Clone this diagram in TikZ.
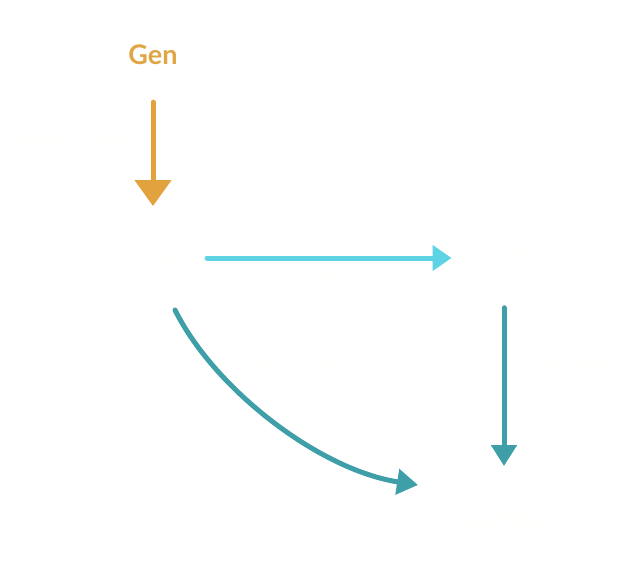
\documentclass[tikz,border=0pt]{standalone}
\usepackage{fontspec}
\setmainfont{Lato}
\usetikzlibrary{arrows.meta}
\definecolor{genorange}{HTML}{E0A545}
\definecolor{arrorange}{HTML}{E2A23E}
\definecolor{arrcyan}{HTML}{5DD3E3}
\definecolor{arrteal}{HTML}{3E9FA8}
\definecolor{txtwhite}{HTML}{FFFFFC}
\tikzset{
  mainlbl/.style={text=txtwhite, font=\fontsize{26}{30}\selectfont, inner sep=0pt},
  edgelbl/.style={text=txtwhite, font=\fontsize{21}{25}\selectfont, inner sep=0pt},
  genlbl/.style={text=genorange, font=\bfseries\fontsize{27}{31}\selectfont, inner sep=0pt},
  chalk/.style={line width=5pt, line cap=round},
}
\begin{document}
\begin{tikzpicture}[x=1pt,y=-1pt]
\useasboundingbox (0,0) rectangle (624,570);
\node[genlbl] (gen) at (153,55) {Gen};
\node[mainlbl] (prop) at (160,258) {Prop};
\node[mainlbl] (sut) at (504,258) {SUT};
\node[mainlbl, font=\fontsize{30}{34}\selectfont] (out) at (505,520) {Output};
\coordinate (cs) at (175,310);
\coordinate (ce) at (418,485);
% arrows
\draw[chalk, arrorange, -{Triangle[width=36pt,length=26pt]}, shorten <=37pt, shorten >=52pt] (gen) -- (gen |- prop);
\draw[chalk, arrcyan, -{Triangle[width=25pt,length=19pt]}, shorten <=20pt, shorten >=28pt] (prop) -- (sut);
\draw[chalk, arrteal, -{Triangle[width=25pt,length=21pt]}, shorten <=40pt, shorten >=54pt] (sut) -- (sut |- out);
\draw[chalk, arrteal, -{Triangle[width=25pt,length=21pt]}] (cs) .. controls (215,390) and (320,470) .. (ce);
% labels
\node[edgelbl] (lrand) at (68,140) {random input};
\node[edgelbl] (lmap) at (320,277) {map};
\node[edgelbl] (lmatch) at (290,365) {match rules};
\node[edgelbl] (lcalc) at (575,365) {calculate};
\end{tikzpicture}
\end{document}
